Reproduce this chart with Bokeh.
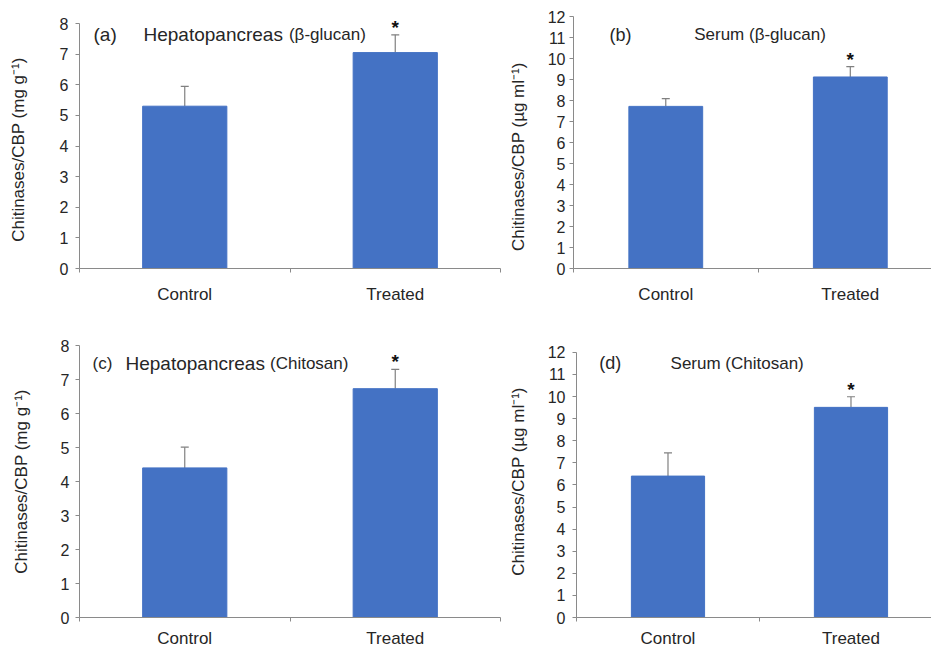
from bokeh.plotting import figure
from bokeh.models import (Range1d, FixedTicker, SingleIntervalTicker, Whisker, TeeHead,
                          ColumnDataSource, Label)
from bokeh.layouts import column, row
from bokeh.core.properties import value
from bokeh.embed import file_html
from bokeh.resources import INLINE
import numpy as np

# ---------------- data ----------------
categories = ["Control", "Treated"]
significance = ["", "*"]

hep_glucan = [5.30, 7.05]
hep_glucan_err = [0.65, 0.58]

ser_glucan = [7.72, 9.12]
ser_glucan_err = [0.37, 0.49]

hep_chitosan = [4.40, 6.73]
hep_chitosan_err = [0.61, 0.57]

ser_chitosan = [6.40, 9.51]
ser_chitosan_err = [1.05, 0.48]

y_label_hep = "Chitinases/CBP (mg g\u207b\u00b9)"
y_label_ser = "Chitinases/CBP (\u00b5g ml\u207b\u00b9)"

# ---------------- style ----------------
FONT = "'Liberation Sans', Arial, sans-serif"
BAR = "#4472C4"
AXIS = "#8a8a8a"
TEXT = "#262626"
ERR = "#808080"
NBSP = "\u00a0"


def panel(vals, errs, ymax, ylabel, titles, cfg):
    p = figure(width=cfg["w"], height=cfg["h"], output_backend="svg", toolbar_location=None,
               title=None,
               x_range=Range1d(0, cfg["xend"]), y_range=Range1d(0, cfg["yend"]),
               min_border_left=cfg["bl"], min_border_right=cfg["br"],
               min_border_top=cfg["bt"], min_border_bottom=cfg["bb"])
    p.outline_line_color = None
    p.xgrid.visible = False
    p.ygrid.visible = False
    p.background_fill_color = "white"
    p.border_fill_color = "white"

    n = len(categories)
    xs = np.arange(n) + 0.5
    src = ColumnDataSource(dict(x=xs, top=vals, upper=np.array(vals) + np.array(errs),
                                sig=significance, cat=categories))
    p.vbar(x="x", top="top", width=0.4, source=src, fill_color=BAR, line_color=BAR)
    w = Whisker(base="x", lower="top", upper="upper", source=src, line_color=ERR, line_width=1.2,
                lower_head=None, upper_head=TeeHead(size=8, line_color=ERR, line_width=1.2))
    p.add_layout(w)
    p.text(x="x", y="upper", text="sig", source=src, text_align="center", text_baseline="bottom",
           text_font=value(FONT), text_font_size="19px", text_font_style="bold", text_color="#111111",
           y_offset=3)

    # x axis: category labels at centers, tick marks between categories
    xa = p.xaxis[0]
    xa.ticker = FixedTicker(ticks=list(xs), minor_ticks=list(np.arange(n + 1)))
    xa.major_label_overrides = {float(x): c for x, c in zip(xs, categories)}
    xa.major_tick_line_color = None
    xa.major_tick_out = 0
    xa.major_tick_in = 0
    xa.minor_tick_in = 0
    xa.minor_tick_out = 4
    xa.minor_tick_line_color = AXIS
    xa.axis_line_color = AXIS
    xa.major_label_text_font = FONT
    xa.major_label_text_font_size = "17px"
    xa.major_label_text_color = TEXT
    xa.major_label_standoff = cfg["xstand"]

    ya = p.yaxis[0]
    ya.ticker = SingleIntervalTicker(interval=1)
    ya.bounds = (0, ymax)
    ya.minor_tick_line_color = None
    ya.major_tick_in = 0
    ya.major_tick_out = 4
    ya.major_tick_line_color = AXIS
    ya.axis_line_color = AXIS
    ya.major_label_text_font = FONT
    ya.major_label_text_font_size = cfg["tick_fs"]
    ya.major_label_text_color = TEXT
    ya.major_label_standoff = cfg["ystand"]
    ya.axis_label = ylabel + NBSP * cfg["pad"]
    ya.axis_label_text_font = FONT
    ya.axis_label_text_font_size = "17px"
    ya.axis_label_text_font_style = "normal"
    ya.axis_label_text_color = TEXT
    ya.axis_label_standoff = cfg["lstand"]

    for (tx, tfs, xpos) in titles:
        p.add_layout(Label(x=xpos, y=cfg["ty"], text=tx, text_font=FONT, text_font_size=tfs,
                           text_color=TEXT, text_baseline="alphabetic", text_align="left"))
    return p


pa = panel(hep_glucan, hep_glucan_err, 8, y_label_hep,
           [("(a)", "19px", 0.0665), ("Hepatopancreas", "19px", 0.304), ("(\u03b2-glucan)", "17px", 0.995)],
           dict(w=505, h=318, xend=2, yend=8.229, bl=79, br=5, bt=16, bb=50, xstand=12, ystand=7,
                lstand=29, tick_fs="16px", ty=7.64, pad=3))
pb = panel(ser_glucan, ser_glucan_err, 12, y_label_ser,
           [("(b)", "18px", 0.195), ("Serum (\u03b2-glucan)", "17px", 0.654)],
           dict(w=426, h=318, xend=1.94, yend=12, bl=67, br=0, bt=16, bb=50, xstand=12, ystand=4,
                lstand=17, tick_fs="16px", ty=11.14, pad=6))
pc = panel(hep_chitosan, hep_chitosan_err, 8, y_label_hep,
           [("(c)", "17px", 0.062), ("Hepatopancreas", "19px", 0.2185), ("(Chitosan)", "17px", 0.905)],
           dict(w=505, h=332, xend=2, yend=8, bl=79, br=5, bt=27, bb=31, xstand=7, ystand=6,
                lstand=27, tick_fs="16px", ty=7.47, pad=0))
pd_ = panel(ser_chitosan, ser_chitosan_err, 12, y_label_ser,
            [("(d)", "18px", 0.124), ("Serum (Chitosan)", "17px", 0.514)],
            dict(w=426, h=332, xend=1.94, yend=12.31, bl=67, br=0, bt=27, bb=31, xstand=7, ystand=7,
                 lstand=17, tick_fs="16px", ty=11.5, pad=0))

layout = column(row(pa, pb), row(pc, pd_))
open("out.html", "w").write(file_html(layout, INLINE))
